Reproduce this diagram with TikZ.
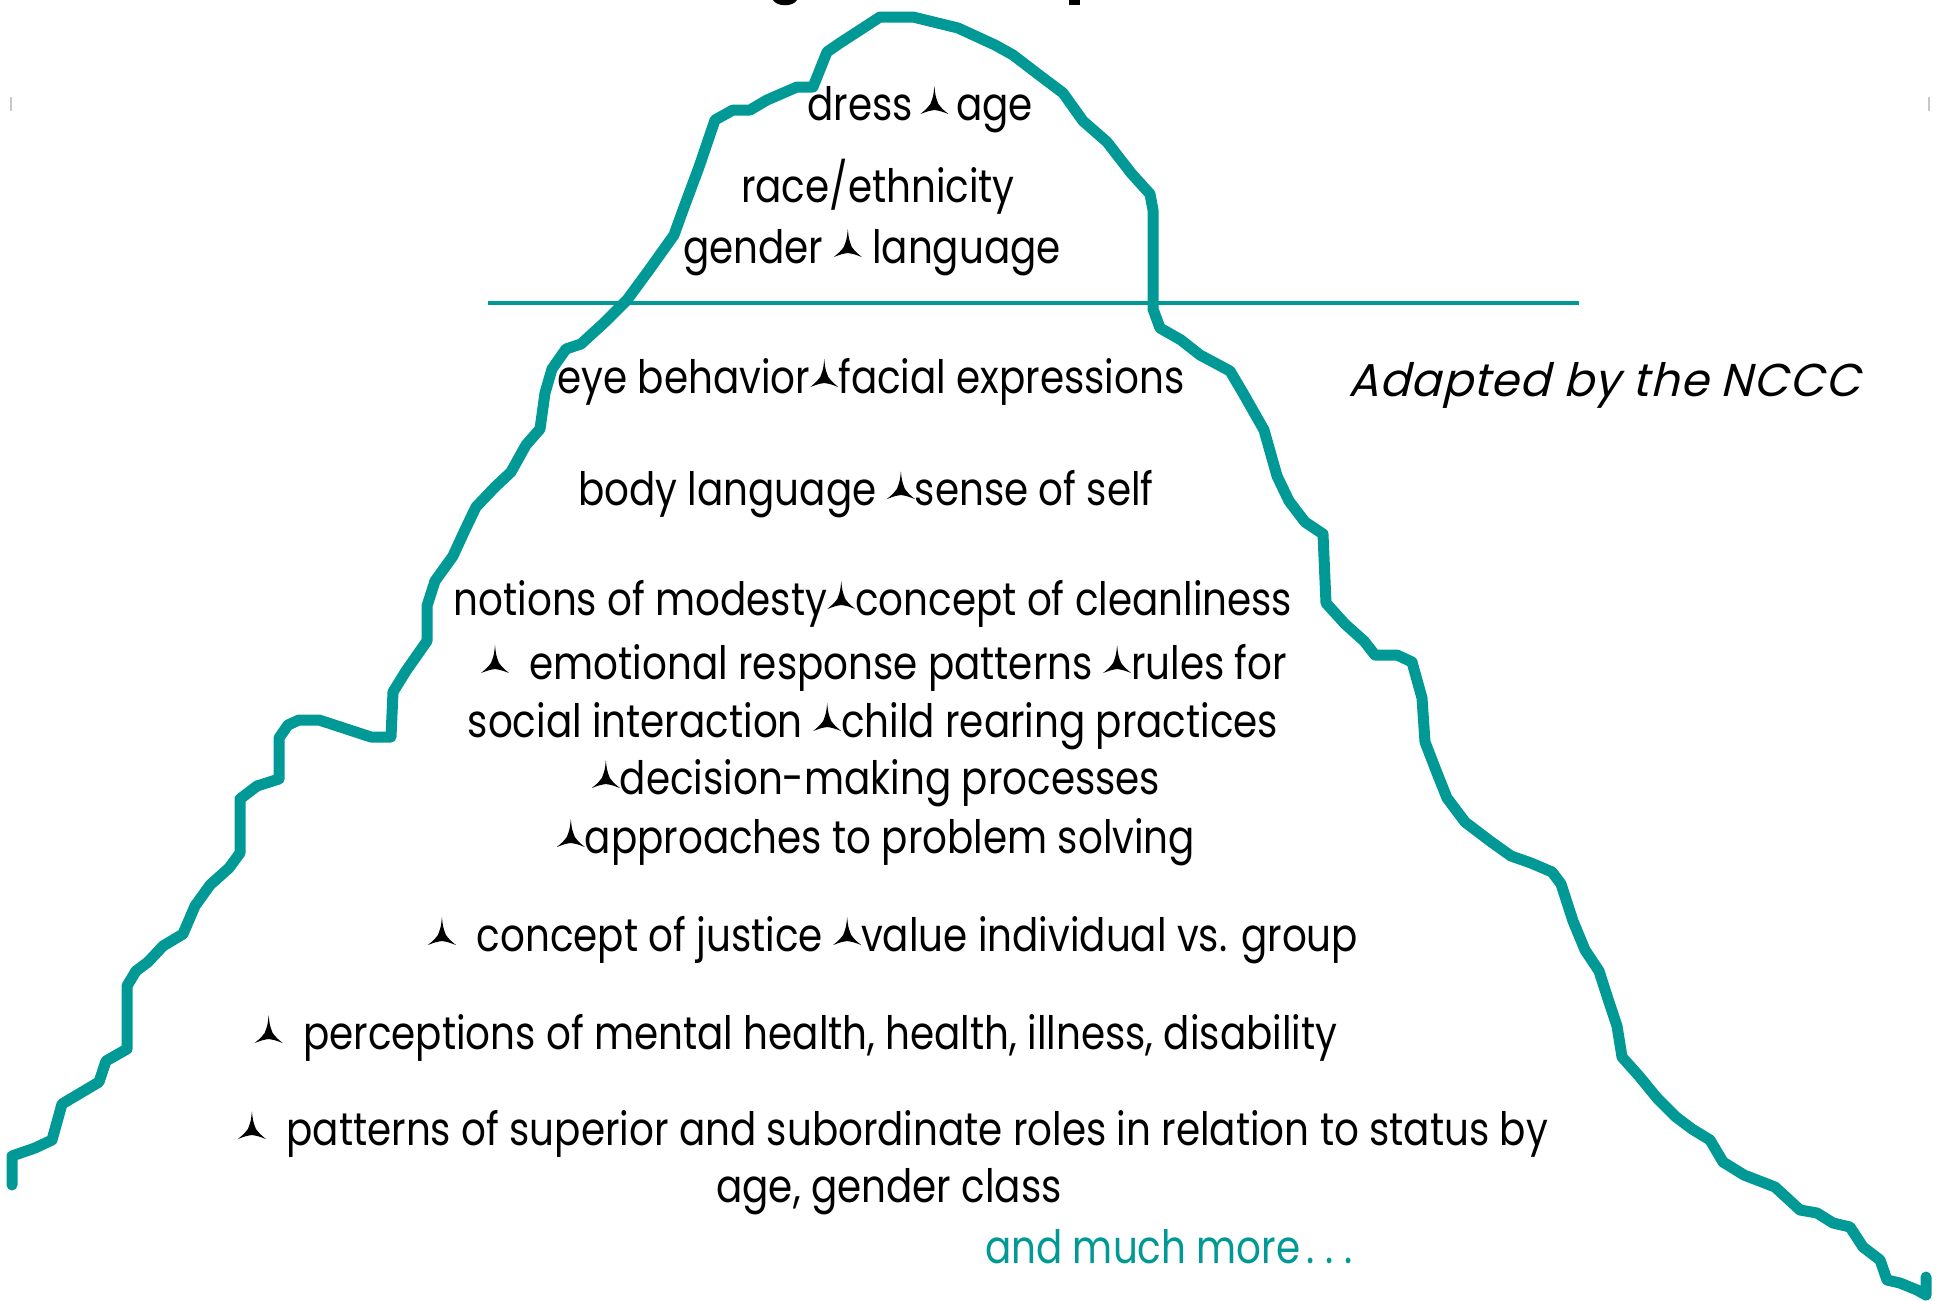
\documentclass[tikz,border=0pt]{standalone}
\usepackage{fontspec}
\setmainfont{Poppins}[FakeStretch=0.845]
\newfontfamily\notefont{Poppins}[FakeStretch=0.98,FakeSlant=0.24,LetterSpace=2]
\definecolor{berg}{RGB}{0,153,150}
\definecolor{tickgray}{RGB}{200,200,200}
% three-pointed bullet used between the items
\newcommand{\tristar}{\tikz[baseline=-6pt]\fill[black] (0pt,28pt) .. controls (1pt,18pt) .. (4pt,10pt) .. controls (8pt,5pt) .. (14pt,0pt) .. controls (6pt,3pt) .. (0pt,4pt) .. controls (-6pt,3pt) .. (-14pt,0pt) .. controls (-8pt,5pt) .. (-4pt,10pt) .. controls (-1pt,18pt) .. (0pt,28pt) -- cycle;}
% widely spaced ellipsis
\newcommand{\spreaddots}{\hspace{6pt}.\hspace{11pt}.\hspace{11pt}.}
\tikzset{
  bergline/.style={draw=berg,line width=11pt,line join=round,line cap=round},
  waterline/.style={draw=berg,line width=4pt},
  item/.style={anchor=base,inner sep=0pt,font=\fontsize{46}{54}\selectfont,text=black},
  more/.style={item,text=berg},
  note/.style={anchor=base,inner sep=0pt,font=\notefont\fontsize{46}{54}\selectfont,text=black}
}
\begin{document}
\begin{tikzpicture}[x=1pt,y=-1pt]
\useasboundingbox (0,0) rectangle (1939,1301);
\clip (0,0) rectangle (1939,1301);
\fill[white] (0,0) rectangle (1939,1301);

% small registration ticks
\fill[tickgray] (10,97) rectangle (12,111);
\fill[tickgray] (1928,97) rectangle (1930,111);

% descenders of the heading above the frame
\fill[black] (773,0) .. controls (777,7) and (793,7) .. (797,0) -- cycle;
\fill[black] (1069,0) rectangle (1080,5);

% outline of the iceberg
\draw[bergline] (12,1185) -- (12,1156) -- (35,1148) -- (52,1140) -- (62,1104) -- (99,1082) -- (106,1061) -- (127,1049) -- (127,986) -- (136,971) -- (148,962) -- (163,946) -- (183,934) -- (195,906) -- (210,885) -- (229,868) -- (240,853) -- (240,799) -- (257,786) -- (279,779) -- (279,738) -- (288,725) -- (299,720) -- (319,720) -- (371,737) -- (391,737) -- (393,692) -- (406,671) -- (427,641) -- (427,606) -- (435,581) -- (453,556) -- (464,532) -- (476,507) -- (495,487) -- (511,472) -- (526,445) -- (540,429) -- (545,393) -- (552,369) -- (566,349) -- (581,344) -- (605,322) -- (627,300) -- (649,270) -- (674,235) -- (683,210) -- (699,167) -- (715,120) -- (733,110) -- (750,110) -- (767,100) -- (797,87) -- (813,87) -- (827,52) -- (840,43) -- (880,17) -- (913,17) -- (958,28) -- (995,45) -- (1013,55) -- (1043,78) -- (1063,93) -- (1083,121) -- (1107,142) -- (1131,173) -- (1150,194) -- (1153,210) -- (1153,309) -- (1160,328) -- (1181,340) -- (1200,355) -- (1230,371) -- (1243,393) -- (1264,430) -- (1277,476) -- (1289,501) -- (1305,522) -- (1323,534) -- (1326,603) -- (1345,624) -- (1364,641) -- (1375,655) -- (1397,655) -- (1412,662) -- (1422,698) -- (1425,742) -- (1437,773) -- (1447,798) -- (1465,822) -- (1490,841) -- (1511,856) -- (1531,863) -- (1552,872) -- (1561,884) -- (1573,921) -- (1585,950) -- (1599,971) -- (1608,999) -- (1617,1026) -- (1622,1057) -- (1639,1076) -- (1657,1098) -- (1676,1117) -- (1692,1129) -- (1710,1140) -- (1723,1162) -- (1744,1175) -- (1775,1187) -- (1800,1210) -- (1817,1213) -- (1833,1223) -- (1850,1227) -- (1863,1247) -- (1880,1260) -- (1887,1280) -- (1900,1283) -- (1917,1290) -- (1926,1295) -- (1926,1277);

% water line
\coordinate (wl) at (488,303);
\coordinate (wr) at (1579,303);
\draw[waterline] (wl) -- (wr);

% visible part
\node[item] (dress) at (920,120) {dress\,\tristar\,age};
\node[item] (race) at (878,202) {race/ethnicity};
\node[item] (gender) at (872,263) {gender \tristar\ language};

% hidden part
\node[item] (eye) at (871,393) {eye behavior\tristar facial expressions};
\node[item] (body) at (866,505) {body language \tristar sense of self};
\node[item] (modesty) at (873,615) {notions of modesty\tristar concept of cleanliness};
\node[item] (emotion) at (884,679) {\tristar\ \ emotional response patterns \tristar rules for};
\node[item] (social) at (873,737) {social interaction \tristar child rearing practices};
\node[item] (decision) at (876,794) {\tristar decision-making processes};
\node[item] (problem) at (876,853) {\tristar approaches to problem solving};
\node[item] (justice) at (893,951) {\tristar\ \ concept of justice \tristar value individual vs. group};
\node[item] (health) at (796,1049) {\tristar\ \ perceptions of mental health, health, illness, disability};
\node[item] (roles) at (893,1145) {\tristar\ \ patterns of superior and subordinate roles in relation to status by};
\node[item] (rolesb) at (889,1202) {age, gender class};
\node[more] (much) at (1169,1263) {and much more\spreaddots};

\node[note] (ncc) at (1604,396) {Adapted by the NCCC};
\end{tikzpicture}
\end{document}
